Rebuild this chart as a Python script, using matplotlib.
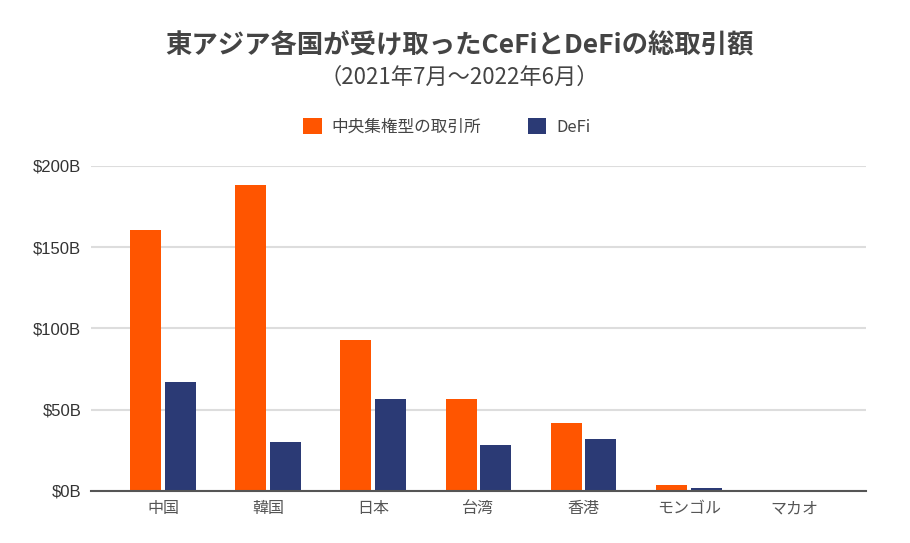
import numpy as np
import matplotlib
matplotlib.use('Agg')
import matplotlib.pyplot as plt
from matplotlib.patches import Patch

plt.rcParams['font.family'] = ['Noto Sans CJK JP', 'DejaVu Sans']

# 東アジア各国の取引額（十億ドル）
countries = ['中国', '韓国', '日本', '台湾', '香港', 'モンゴル', 'マカオ']
cefi = [160.6, 188.2, 92.6, 56.5, 41.9, 3.8, 0.0]
defi = [67.1, 30.0, 56.5, 28.1, 32.0, 1.6, 0.0]
yticks = [0, 50, 100, 150, 200]
ytick_labels = ['$0B', '$50B', '$100B', '$150B', '$200B']

c_orange = '#FF5500'
c_navy = '#2B3A75'
c_text = '#444444'

fig = plt.figure(figsize=(9.1, 5.43), dpi=100)
ax = fig.add_axes([0.1, 0.0963, 0.8516, 0.598])

x = np.arange(len(countries))
w = 0.295
ax.bar(x - 0.165, cefi, width=w, color=c_orange, zorder=3)
ax.bar(x + 0.165, defi, width=w, color=c_navy, zorder=3)

ax.set_xlim(-0.685, 6.685)
ax.set_ylim(0, 200)
ax.set_yticks(yticks)
ax.set_yticklabels(ytick_labels, fontsize=12, color='#333333', family='Liberation Sans')
ax.set_xticks(x)
ax.set_xticklabels(countries, fontsize=11.5, color='#555555')
ax.tick_params(axis='both', length=0)
ax.tick_params(axis='y', pad=7)
ax.tick_params(axis='x', pad=7)

ax.grid(axis='y', color='#dddddd', linewidth=1.5, zorder=0)
for s in ['top', 'right', 'left']:
    ax.spines[s].set_visible(False)
ax.spines['bottom'].set_color('#555555')
ax.spines['bottom'].set_linewidth(1.5)
ax.spines['bottom'].set_zorder(4)

fig.text(0.505, 1 - 45 / 543, '東アジア各国が受け取ったCeFiとDeFiの総取引額',
         ha='center', va='center', fontsize=19, fontweight='bold', color=c_text)
fig.text(0.505, 1 - 77 / 543, '（2021年7月～2022年6月）',
         ha='center', va='center', fontsize=16, color=c_text)

handles = [Patch(facecolor=c_orange), Patch(facecolor=c_navy)]
fig.legend(handles, ['中央集権型の取引所', 'DeFi'], loc='center',
           bbox_to_anchor=(447 / 910, 1 - 127 / 543), ncol=2, frameon=False,
           fontsize=12, labelcolor=c_text, handlelength=1.1, handleheight=1.1,
           handletextpad=0.6, columnspacing=2.8)

fig.savefig('out.png', dpi=100)
